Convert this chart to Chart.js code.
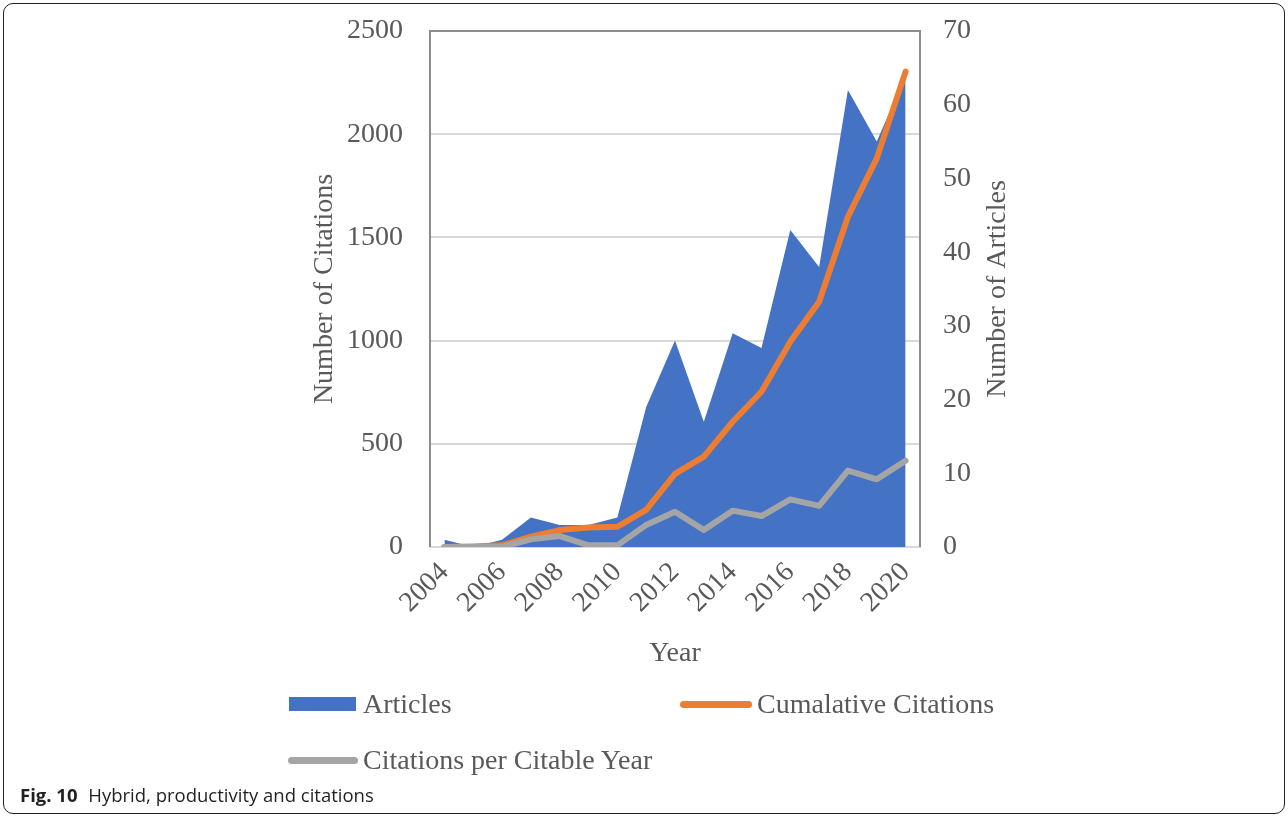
<!DOCTYPE html>
<html>
<head>
<meta charset="utf-8">
<script src="https://cdn.jsdelivr.net/npm/chart.js@4.4.1/dist/chart.umd.min.js"></script>
<style>
  html, body { margin: 0; padding: 0; background: #fff; }
  #wrap { position: relative; width: 1288px; height: 817px; overflow: hidden; }
  #c { position: absolute; left: 0; top: 0; }
  #frame { position: absolute; left: 3px; top: 3px; width: 1280px; height: 809px; border: 1.5px solid #231f20; border-radius: 10px; box-sizing: content-box; pointer-events: none; }
  .lg { position: absolute; font-family: "Liberation Serif", "Times New Roman", serif; font-size: 28px; color: #595959; line-height: 1; white-space: nowrap; }
  .sw { position: absolute; }
  #cap { position: absolute; left: 20px; top: 782px; font-family: "Open Sans", "Noto Sans", sans-serif; font-size: 18.5px; color: #231f20; white-space: nowrap; letter-spacing: 0; }
  #cap b { font-weight: 700; margin-right: 6px; }
</style>
</head>
<body>
<div id="wrap">
  <canvas id="c" width="1288" height="817"></canvas>
  <div class="sw" style="left:289px; top:697px; width:67px; height:14px; background:#4472c4;"></div>
  <div class="lg" style="left:363px; top:690px;">Articles</div>
  <div class="sw" style="left:680px; top:701px; width:72px; height:7px; background:#ed7d31; border-radius:4px;"></div>
  <div class="lg" style="left:757px; top:690px;">Cumalative Citations</div>
  <div class="sw" style="left:288px; top:757px; width:70px; height:7px; background:#a5a5a5; border-radius:4px;"></div>
  <div class="lg" style="left:363px; top:746px;">Citations per Citable Year</div>
  <div id="cap"><b>Fig. 10</b> Hybrid, productivity and citations</div>
  <div id="frame"></div>
</div>
<script>
const years = ['2004','2005','2006','2007','2008','2009','2010','2011','2012','2013','2014','2015','2016','2017','2018','2019','2020'];
const articles = [1, 0, 1, 4, 3, 3, 4, 19, 28, 17, 29, 27, 43, 38, 62, 55, 64];
const cumulativeCitations = [0, 3, 8, 50, 82, 94, 98, 180, 354, 438, 607, 752, 995, 1188, 1600, 1883, 2303];
const citationsPerYear = [0, 0, 0, 37, 53, 8, 8, 107, 171, 82, 176, 150, 231, 199, 370, 328, 418];
const leftTicks = [0, 500, 1000, 1500, 2000, 2500];
const rightTicks = [0, 10, 20, 30, 40, 50, 60, 70];

const TXT = '#595959';
const serif = '"Liberation Serif", "Times New Roman", serif';
const FS = 28;

const frameBorder = {
  id: 'frameBorder',
  beforeDatasetsDraw(chart) {
    const a = chart.chartArea, ctx = chart.ctx;
    ctx.save();
    ctx.strokeStyle = '#8c8c8c';
    ctx.lineWidth = 2;
    ctx.beginPath();
    ctx.moveTo(a.left, a.bottom);
    ctx.lineTo(a.left, a.top);
    ctx.lineTo(a.right, a.top);
    ctx.lineTo(a.right, a.bottom);
    ctx.stroke();
    ctx.restore();
  },
  afterDraw(chart) {
    const a = chart.chartArea, ctx = chart.ctx;
    ctx.save();
    ctx.fillStyle = TXT;
    ctx.font = FS + 'px ' + serif;
    ctx.textAlign = 'center';
    ctx.textBaseline = 'middle';
    ctx.translate(998, (a.top + a.bottom) / 2);
    ctx.rotate(-Math.PI / 2);
    ctx.fillText('Number of Articles', 0, 0);
    ctx.restore();
  }
};

const fixY = (w) => (s) => { s.width = w; s.paddingTop = 0; s.paddingBottom = 0; };

new Chart(document.getElementById('c'), {
  type: 'line',
  data: {
    labels: years,
    datasets: [
      {
        label: 'Articles',
        data: articles,
        yAxisID: 'y1',
        fill: 'origin',
        backgroundColor: '#4472c4',
        borderWidth: 0,
        borderColor: 'rgba(0,0,0,0)',
        pointRadius: 0,
        tension: 0,
        order: 3
      },
      {
        label: 'Cumalative Citations',
        data: cumulativeCitations,
        yAxisID: 'y',
        borderColor: '#ed7d31',
        borderWidth: 6,
        borderCapStyle: 'round',
        borderJoinStyle: 'round',
        pointRadius: 0,
        fill: false,
        tension: 0,
        order: 2
      },
      {
        label: 'Citations per Citable Year',
        data: citationsPerYear,
        yAxisID: 'y',
        borderColor: '#a5a5a5',
        borderWidth: 6,
        borderCapStyle: 'round',
        borderJoinStyle: 'round',
        pointRadius: 0,
        fill: false,
        tension: 0,
        order: 1
      }
    ]
  },
  options: {
    responsive: false,
    animation: false,
    events: [],
    layout: { padding: { left: 300, right: 274, top: 31, bottom: 147 } },
    plugins: { legend: { display: false }, tooltip: { enabled: false }, title: { display: false } },
    scales: {
      x: {
        type: 'category',
        offset: true,
        grid: { display: false, drawTicks: false },
        border: { display: true, color: '#d9d9d9', width: 2 },
        ticks: {
          autoSkip: false,
          minRotation: 45,
          maxRotation: 45,
          padding: 9,
          color: TXT,
          font: { family: serif, size: FS },
          callback: (v, i) => (i % 2 === 0 ? years[i] : '')
        },
        title: { display: true, text: 'Year', color: TXT, font: { family: serif, size: FS }, padding: { top: 0, bottom: 0 } },
        afterFit: (s) => { s.height = 123; s.paddingLeft = 0; s.paddingRight = 0; }
      },
      y: {
        position: 'left',
        min: 0,
        max: 2500,
        afterBuildTicks: (s) => { s.ticks = leftTicks.map(v => ({ value: v })); },
        grid: {
          drawTicks: false,
          color: (ctx) => (ctx.tick && ctx.tick.value === 2500 ? '#8c8c8c' : '#d9d9d9'),
          lineWidth: 2
        },
        border: { display: false },
        ticks: { padding: 27, color: TXT, font: { family: serif, size: FS }, callback: (v) => String(v) },
        title: { display: true, text: 'Number of Citations', color: TXT, font: { family: serif, size: FS }, padding: { top: 8, bottom: 0 } },
        afterFit: fixY(130)
      },
      y1: {
        position: 'right',
        min: 0,
        max: 70,
        afterBuildTicks: (s) => { s.ticks = rightTicks.map(v => ({ value: v })); },
        grid: { display: false, drawTicks: false },
        border: { display: false },
        ticks: { padding: 23, color: TXT, font: { family: serif, size: FS }, callback: (v) => String(v) },
        title: { display: false },
        afterFit: fixY(94)
      }
    }
  },
  plugins: [frameBorder]
});
</script>
</body>
</html>
